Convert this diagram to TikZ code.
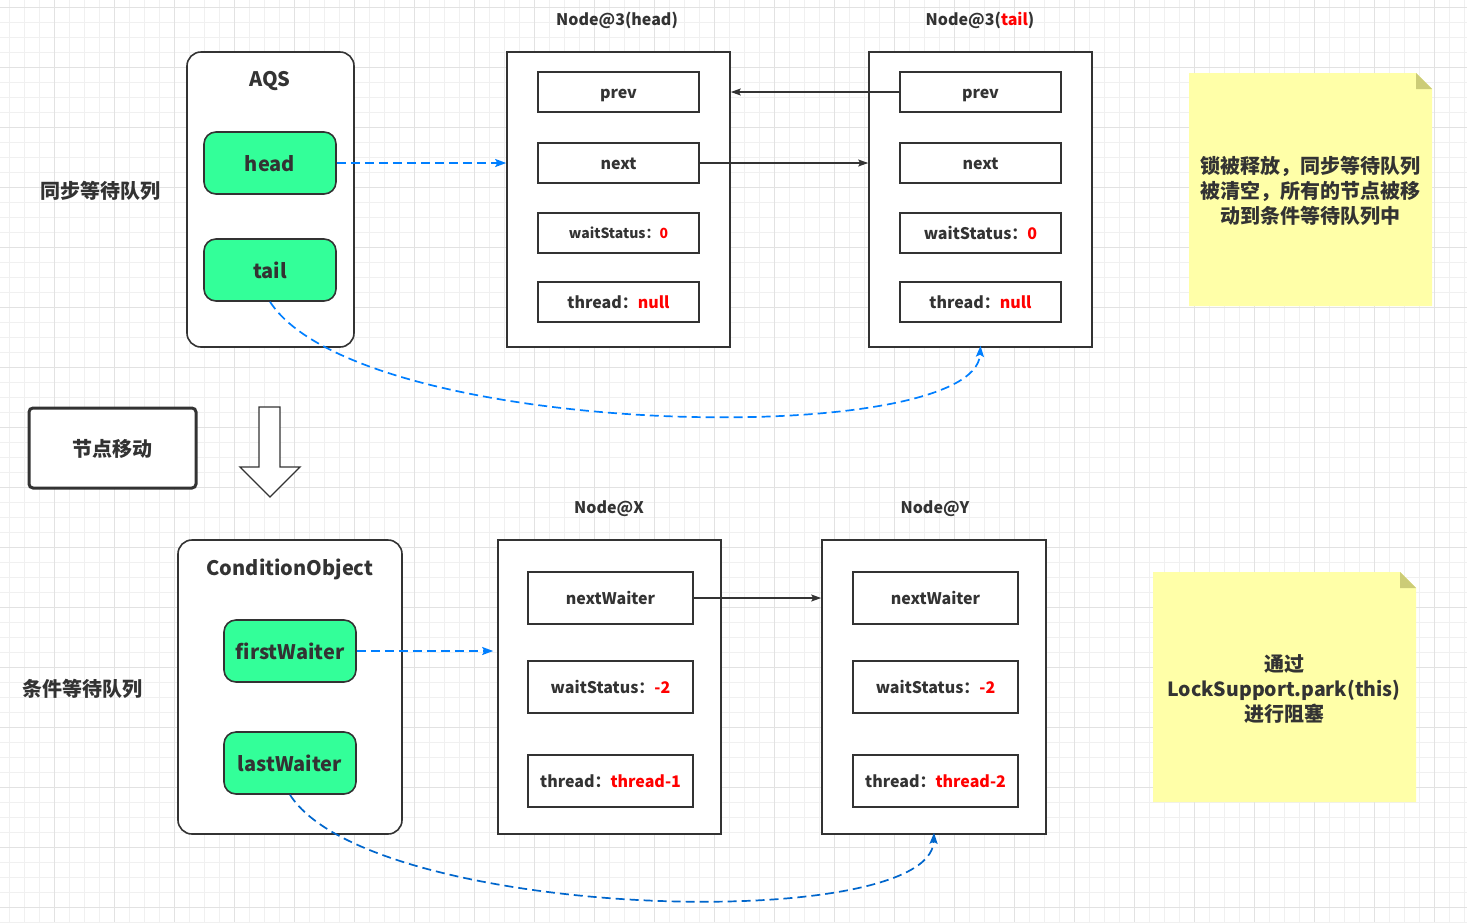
\documentclass[tikz,border=0pt]{standalone}
\usepackage{fontspec}
\setmainfont{Noto Sans CJK SC}
\usetikzlibrary{arrows.meta}
\definecolor{txt}{HTML}{333333}
\definecolor{grn}{HTML}{33FF99}
\definecolor{blu}{HTML}{007FFF}
\definecolor{bludk}{HTML}{0066CC}
\definecolor{noteY}{HTML}{FFFFA8}
\definecolor{noteC}{HTML}{CCCC77}
\definecolor{gminor}{HTML}{F0F0F0}
\definecolor{gmajor}{HTML}{E2E2E2}
\definecolor{red}{HTML}{FF0000}
\newcommand{\fs}[1]{\fontsize{#1pt}{\the\dimexpr #1pt*5/4\relax}\selectfont\bfseries}
\tikzset{
  fsz/.style={font=\fs{#1}, text height=#1pt, text depth={0.2*#1pt}},
  container/.style={draw=txt, line width=1.6pt, rounded corners=14pt, fill=white, inner sep=0pt},
  pill/.style={draw=txt, line width=1.6pt, rounded corners=12pt, fill=grn, inner sep=0pt, text=txt, fsz=20},
  nodebox/.style={draw=txt, line width=1.6pt, fill=white, inner sep=0pt},
  field/.style={draw=txt, line width=1.6pt, fill=white, inner sep=0pt, text=txt},
  lbl/.style={text=txt, inner sep=0pt},
  notetext/.style={text=txt, inner sep=0pt, align=center, font=\fs{20}},
  solidarrow/.style={draw=txt, line width=1.2pt, -{Stealth[length=10pt,width=7pt,inset=2pt]}},
  dasharrow/.style={draw=blu, line width=1.7pt, dash pattern=on 9pt off 5pt, -{Stealth[length=11pt,width=8pt,inset=2pt]}},
}
\begin{document}
\begin{tikzpicture}[x=1pt,y=-1pt]
\useasboundingbox (0,0) rectangle (1467,922);
\fill[white] (0,0) rectangle (1467,922);
% grid
\foreach \k in {0,...,97} {\draw[gminor, line width=1pt] ({9.3+15*\k},0) -- ({9.3+15*\k},922);}
\foreach \k in {0,...,61} {\draw[gminor, line width=1pt] (0,{7.3+15*\k}) -- (1467,{7.3+15*\k});}
\foreach \k in {0,...,24} {\draw[gmajor, line width=1pt] ({54.3+60*\k},0) -- ({54.3+60*\k},922);}
\foreach \k in {-1,...,14} {\draw[gmajor, line width=1pt] (0,{67.3+60*\k}) -- (1467,{67.3+60*\k});}

% ===== top: AQS =====
\node[container, minimum width=167pt, minimum height=295pt] (aqs) at (270.5,199.5) {};
\node[lbl, fsz=20] (aqst) at (270,78) {AQS};
\node[pill, minimum width=132pt, minimum height=62pt] (head) at (270,163) {head};
\node[pill, minimum width=132pt, minimum height=62pt] (tail) at (270,270) {tail};
\node[lbl, fsz=20] (syncq) at (100,190) {同步等待队列};

% Node@3(head)
\node[lbl, fsz=16] (n3hl) at (617,19) {Node@3(head)};
\node[nodebox, minimum width=223pt, minimum height=295pt] (n3h) at (618.5,199.5) {};
\node[field, minimum width=161pt, minimum height=40pt, fsz=16] (hprev) at (618.5,92) {prev};
\node[field, minimum width=161pt, minimum height=40pt, fsz=16] (hnext) at (618.5,163) {next};
\node[field, minimum width=161pt, minimum height=40pt, fsz=14] (hws) at (618.5,233) {waitStatus：\textcolor{red}{0}};
\node[field, minimum width=161pt, minimum height=40pt, fsz=16] (hth) at (618.5,302) {thread：\textcolor{red}{null}};

% Node@3(tail)
\node[lbl, fsz=16] (n3tl) at (980,19) {Node@3(\textcolor{red}{tail})};
\node[nodebox, minimum width=223pt, minimum height=295pt] (n3t) at (980.5,199.5) {};
\node[field, minimum width=161pt, minimum height=40pt, fsz=16] (tprev) at (980.5,92) {prev};
\node[field, minimum width=161pt, minimum height=40pt, fsz=16] (tnext) at (980.5,163) {next};
\node[field, minimum width=161pt, minimum height=40pt, fsz=16] (tws) at (980.5,233) {waitStatus：\textcolor{red}{0}};
\node[field, minimum width=161pt, minimum height=40pt, fsz=16] (tth) at (980.5,302) {thread：\textcolor{red}{null}};

% note 1
\fill[noteY] (1189,73) -- (1416,73) -- (1432,89) -- (1432,306) -- (1189,306) -- cycle;
\fill[noteC] (1416,73) -- (1432,89) -- (1416,89) -- cycle;
\node[notetext] (note1) at (1310,191) {锁被释放，同步等待队列\\被清空，所有的节点被移\\动到条件等待队列中};

% arrows top
\draw[solidarrow] (tprev.west) -- (tprev.west -| n3h.east);
\draw[solidarrow] (hnext.east) -- (hnext.east -| n3t.west);
\draw[dasharrow] (head.east) -- (head.east -| n3h.west);
\draw[dasharrow] (tail.south) .. controls (360,440) and (975,450) .. ([yshift=2pt]n3t.south);

% ===== middle =====
\node[draw=txt, line width=3pt, rounded corners=4pt, fill=white, minimum width=167pt, minimum height=80pt, inner sep=0pt, text=txt, fsz=20] (move) at (112.5,448) {节点移动};
\draw[txt, line width=1.3pt, fill=white] (259,407) -- (280,407) -- (280,467) -- (300,467) -- (270,497) -- (240,467) -- (259,467) -- cycle;

% ===== bottom: ConditionObject =====
\node[container, minimum width=224pt, minimum height=294pt] (cond) at (290,687) {};
\node[lbl, fsz=20] (condt) at (290,567) {ConditionObject};
\node[pill, minimum width=132pt, minimum height=62pt] (first) at (290,651) {firstWaiter};
\node[pill, minimum width=132pt, minimum height=62pt] (last) at (290,763) {lastWaiter};
\node[lbl, fsz=20] (condq) at (83,688) {条件等待队列};

% Node@X
\node[lbl, fsz=16] (nxl) at (609,507) {Node@X};
\node[nodebox, minimum width=223pt, minimum height=294pt] (nx) at (609.5,687) {};
\node[field, minimum width=165pt, minimum height=52pt, fsz=16] (xnw) at (610.5,598) {nextWaiter};
\node[field, minimum width=165pt, minimum height=52pt, fsz=16] (xws) at (610.5,687) {waitStatus：\textcolor{red}{-2}};
\node[field, minimum width=165pt, minimum height=52pt, fsz=16] (xth) at (610.5,781) {thread：\textcolor{red}{thread-1}};

% Node@Y
\node[lbl, fsz=16] (nyl) at (935,507) {Node@Y};
\node[nodebox, minimum width=224pt, minimum height=294pt] (ny) at (934,687) {};
\node[field, minimum width=165pt, minimum height=52pt, fsz=16] (ynw) at (935.5,598) {nextWaiter};
\node[field, minimum width=165pt, minimum height=52pt, fsz=16] (yws) at (935.5,687) {waitStatus：\textcolor{red}{-2}};
\node[field, minimum width=165pt, minimum height=52pt, fsz=16] (yth) at (935.5,781) {thread：\textcolor{red}{thread-2}};

% note 2
\fill[noteY] (1153,572) -- (1400,572) -- (1416,588) -- (1416,802) -- (1153,802) -- cycle;
\fill[noteC] (1400,572) -- (1416,588) -- (1400,588) -- cycle;
\node[notetext] (note2) at (1284,689) {通过\\{\fontsize{19.5pt}{25pt}\selectfont LockSupport.park(this)}\\进行阻塞};

% arrows bottom
\draw[solidarrow] (xnw.east) -- (xnw.east -| ny.west);
\draw[dasharrow, shorten >=4pt] (first.east) -- (first.east -| nx.west);
\draw[dasharrow, draw=bludk] (last.south) .. controls (370,920) and (930,935) .. ([yshift=2pt]ny.south);
\end{tikzpicture}
\end{document}
